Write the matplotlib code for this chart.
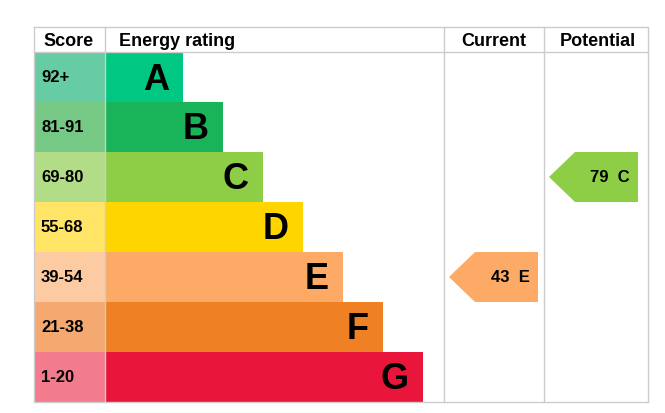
import matplotlib.pyplot as plt
import matplotlib.patches as patches

# Data
scores = ['92+', '81-91', '69-80', '55-68', '39-54', '21-38', '1-20']
bands = ['A', 'B', 'C', 'D', 'E', 'F', 'G']
bar_colors = ['#00c781', '#19b459', '#8dce46', '#ffd500', '#fcaa65', '#ef8023', '#e9153b']
score_colors = ['#66cca3', '#75c985', '#b3dc86', '#ffe466', '#fdcba2', '#f5a870', '#f27b8d']
current_score, current_band = 43, 'E'
potential_score, potential_band = 79, 'C'

W, H = 665, 414
fig = plt.figure(figsize=(W / 100, H / 100), dpi=100)
ax = fig.add_axes([0, 0, 1, 1])
ax.set_xlim(0, W)
ax.set_ylim(H, 0)
ax.axis('off')

left, right, top, head, row_h = 34, 648, 28, 53, 50
score_r, cur_l, pot_l = 105, 444, 544
bottom = head + row_h * len(bands)
grid = '#cccccc'

# frame lines
ax.plot([left, right, right, left, left], [top, top, bottom, bottom, top], color=grid, lw=1)
ax.plot([left, right], [head, head], color=grid, lw=1)
for x in (score_r, cur_l, pot_l):
    ax.plot([x, x], [top, bottom], color=grid, lw=1)

hfont = dict(fontsize=13, fontweight='bold', family='Liberation Sans', va='center')
ax.text(69, 41, 'Score', ha='center', **hfont)
ax.text(119, 41, 'Energy rating', ha='left', **hfont)
ax.text(494, 41, 'Current', ha='center', **hfont)
ax.text(598, 41, 'Potential', ha='center', **hfont)

for i, (s, b) in enumerate(zip(scores, bands)):
    y = head + i * row_h
    ax.add_patch(patches.Rectangle((left, y), score_r - left, row_h, color=score_colors[i], lw=0))
    bar_r = 183 + 40 * i
    ax.add_patch(patches.Rectangle((score_r, y), bar_r - score_r, row_h, color=bar_colors[i], lw=0))
    ax.text(41, y + row_h / 2, s, ha='left', va='center', fontsize=12, fontweight='bold',
            family='Liberation Sans')
    ax.text(bar_r - 14, y + row_h / 2 + 2, b, ha='right', va='center', fontsize=26,
            fontweight='bold', family='Liberation Sans')


def arrow(col_l, score, band):
    i = bands.index(band)
    y0 = head + i * row_h
    x_tip, x_b, x_r = col_l + 5, col_l + 31, col_l + 94
    pts = [(x_tip, y0 + row_h / 2), (x_b, y0), (x_r, y0), (x_r, y0 + row_h), (x_b, y0 + row_h)]
    ax.add_patch(patches.Polygon(pts, closed=True, color=bar_colors[i], lw=0))
    ax.text(x_r - 8, y0 + row_h / 2, f'{score}  {band}', ha='right', va='center', fontsize=12,
            fontweight='bold', family='Liberation Sans')


arrow(cur_l, current_score, current_band)
arrow(pot_l, potential_score, potential_band)

fig.savefig('out.png', dpi=100)
